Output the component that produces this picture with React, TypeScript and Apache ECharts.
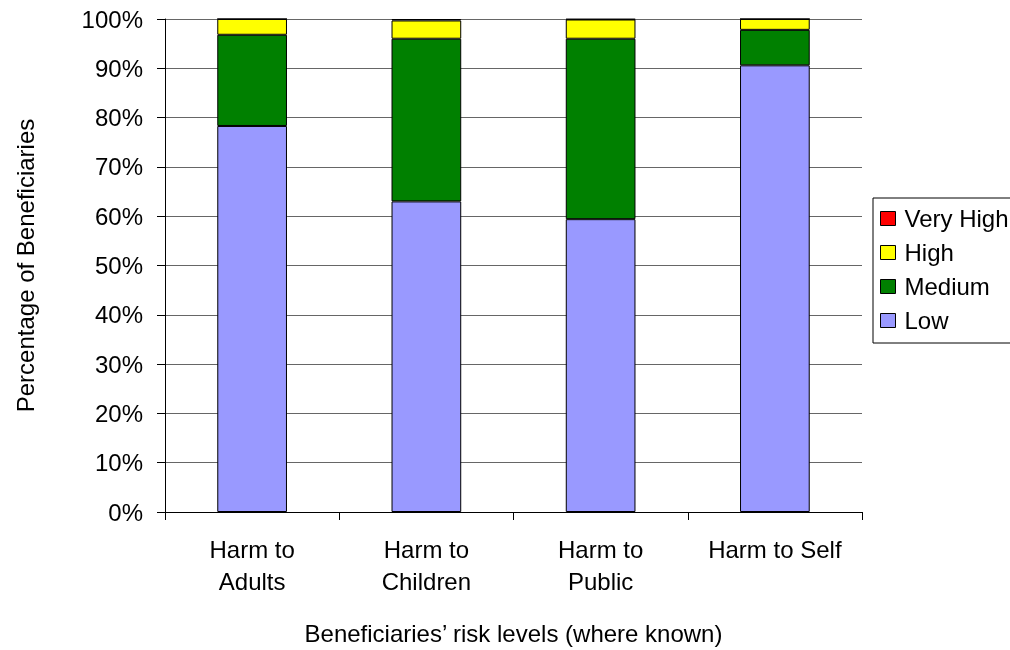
import React, { useEffect, useRef } from "react";
import * as echarts from "echarts";

const categories = ["Harm to\nAdults", "Harm to\nChildren", "Harm to\nPublic", "Harm to Self"];
const lowValues = [78.3, 63.0, 59.4, 90.6];
const mediumValues = [18.5, 33.0, 36.6, 7.2];
const highValues = [3.2, 3.7, 3.9, 2.2];
const veryHighValues = [0, 0.3, 0.1, 0];
const legendOrder = ["Very High", "High", "Medium", "Low"];

const FONT = "Arial, 'Liberation Sans', sans-serif";

export default function App() {
  const ref = useRef<HTMLDivElement>(null);
  useEffect(() => {
    if (!ref.current) return;
    const chart = echarts.init(ref.current, null, { renderer: "svg" });
    const mk = (name: string, data: number[], color: string) => ({
      name,
      type: "bar",
      stack: "total",
      data,
      barWidth: "40%",
      itemStyle: { color, borderColor: "#000", borderWidth: 1 },
    });
    chart.setOption({
      animation: false,
      textStyle: { fontFamily: FONT },
      grid: { left: 165, right: 148, top: 19, bottom: 134 },
      legend: {
        data: legendOrder,
        orient: "vertical",
        left: 873,
        top: 198,
        itemWidth: 15,
        itemHeight: 14,
        itemGap: 7,
        borderColor: "#000",
        borderWidth: 1,
        borderRadius: 0,
        padding: [7, 60, 9, 7],
        icon: "rect",
        itemStyle: { borderColor: "#000", borderWidth: 1 },
        textStyle: { fontSize: 24, color: "#000", fontFamily: FONT, padding: [0, 0, 0, 4], lineHeight: 27 },
      },
      xAxis: {
        type: "category",
        data: categories,
        name: "Beneficiaries\u2019 risk levels (where known)",
        nameLocation: "middle",
        nameGap: 109,
        nameTextStyle: { fontSize: 24, color: "#000", fontFamily: FONT },
        axisLine: { lineStyle: { color: "#000", width: 1 } },
        axisTick: { show: true, alignWithLabel: false, length: 8, lineStyle: { color: "#000" } },
        axisLabel: { fontSize: 24, color: "#000", lineHeight: 32, margin: 21, fontFamily: FONT, interval: 0 },
      },
      yAxis: {
        type: "value",
        min: 0,
        max: 100,
        interval: 10,
        name: "Percentage of Beneficiaries",
        nameLocation: "middle",
        nameGap: 128,
        nameTextStyle: { fontSize: 24, color: "#000", fontFamily: FONT },
        axisLine: { show: true, lineStyle: { color: "#000", width: 1 } },
        axisTick: { show: true, length: 8, lineStyle: { color: "#000" } },
        axisLabel: { fontSize: 24, color: "#000", formatter: "{value}%", margin: 22, fontFamily: FONT },
        splitLine: { show: true, lineStyle: { color: "#666", width: 1 } },
      },
      series: [
        mk("Low", lowValues, "#9999ff"),
        mk("Medium", mediumValues, "#008000"),
        mk("High", highValues, "#ffff00"),
        mk("Very High", veryHighValues, "#ff0000"),
      ],
    });
    return () => chart.dispose();
  }, []);
  return (
    <div
      ref={ref}
      style={{ position: "fixed", left: 0, top: 0, width: 1010, height: 650 }}
    />
  );
}
